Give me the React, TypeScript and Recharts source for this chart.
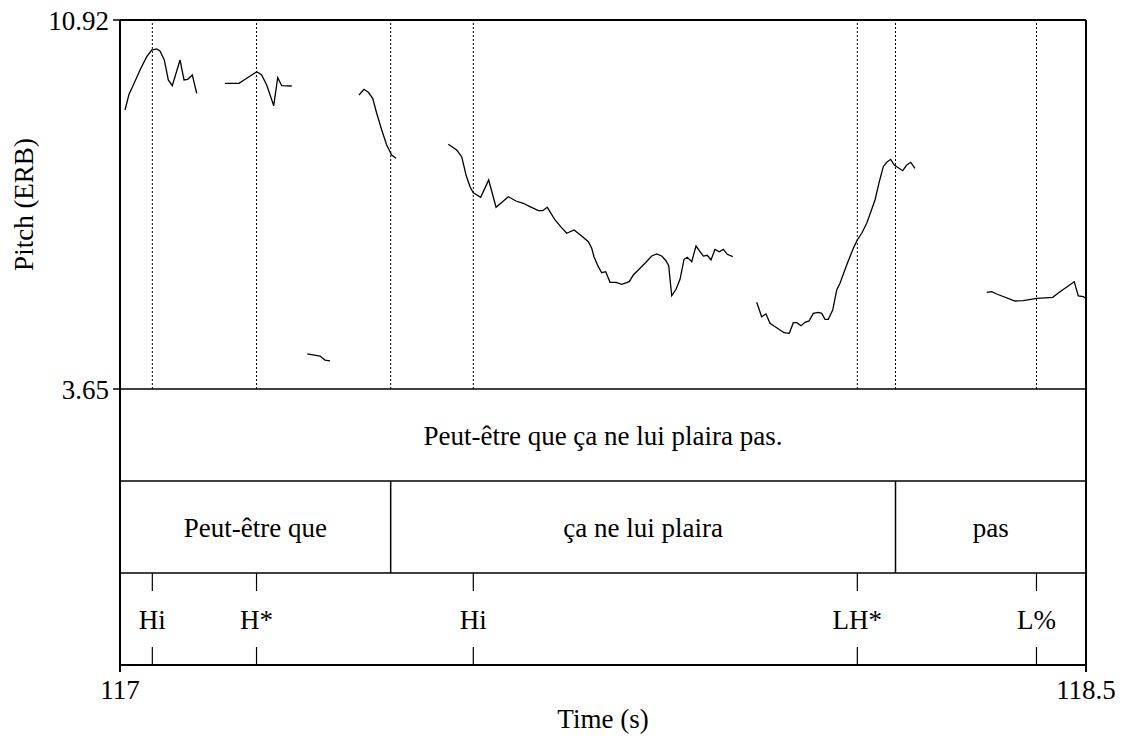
import React from 'react';
import {
  ComposedChart,
  Line,
  XAxis,
  YAxis,
  ReferenceLine,
  ReferenceArea,
  ReferenceDot,
} from 'recharts';

// Pitch track, one array per voiced stretch: [time (s), pitch (ERB)]
const seg1 = [
  [117.0078, 9.147], [117.014, 9.456], [117.0207, 9.639], [117.0311, 9.935],
  [117.0415, 10.197], [117.0492, 10.329], [117.057, 10.349], [117.0621, 10.309],
  [117.0688, 10.132], [117.075, 9.738], [117.0812, 9.626], [117.0932, 10.132],
  [117.0994, 9.738], [117.1051, 9.752], [117.1123, 9.836], [117.1191, 9.476],
];
const seg2 = [
  [117.163, 9.673], [117.1848, 9.673], [117.1967, 9.771], [117.2123, 9.901],
  [117.22, 9.836], [117.2278, 9.639], [117.2387, 9.232], [117.2449, 9.783],
  [117.2511, 9.626], [117.2666, 9.62],
];
const seg3 = [
  [117.2908, 4.34], [117.3106, 4.3], [117.3183, 4.221], [117.3261, 4.202],
];
const seg4 = [
  [117.3711, 9.442], [117.3789, 9.555], [117.3856, 9.496], [117.3924, 9.377],
  [117.3986, 9.082], [117.4064, 8.753], [117.4141, 8.457], [117.4219, 8.26],
  [117.4286, 8.195],
];
const seg5 = [
  [117.5098, 8.471], [117.5228, 8.359], [117.5306, 8.227], [117.5373, 7.866],
  [117.5435, 7.635], [117.5486, 7.517], [117.5601, 7.427], [117.5725, 7.768],
  [117.5839, 7.23], [117.603, 7.439], [117.6149, 7.354], [117.6262, 7.309],
  [117.6366, 7.242], [117.6495, 7.163], [117.6564, 7.163], [117.6635, 7.23],
  [117.6755, 6.98], [117.6843, 6.848], [117.6936, 6.718], [117.705, 6.783],
  [117.7169, 6.664], [117.7272, 6.552], [117.7325, 6.422], [117.736, 6.256],
  [117.7427, 6.06], [117.748, 5.941], [117.7542, 5.961], [117.7609, 5.752],
  [117.7702, 5.752], [117.779, 5.713], [117.7908, 5.764], [117.7971, 5.896],
  [117.8075, 6.028], [117.8152, 6.127], [117.8256, 6.27], [117.8334, 6.31],
  [117.8411, 6.27], [117.8478, 6.178], [117.852, 6.079], [117.8567, 5.488],
  [117.8634, 5.614], [117.8696, 5.811], [117.8758, 6.205], [117.8809, 6.245],
  [117.8878, 6.158], [117.8944, 6.467], [117.9058, 6.27], [117.912, 6.284],
  [117.9177, 6.192], [117.9239, 6.402], [117.9306, 6.355], [117.9368, 6.402],
  [117.943, 6.304], [117.9514, 6.257],
];
const seg6 = [
  [117.9887, 5.358], [117.9963, 5.074], [118.0031, 5.128], [118.0093, 4.944],
  [118.0197, 4.858], [118.0311, 4.759], [118.0393, 4.747], [118.0455, 4.956],
  [118.0508, 4.956], [118.0575, 4.897], [118.0637, 4.964], [118.0699, 4.99],
  [118.0766, 5.141], [118.0843, 5.161], [118.0896, 5.141], [118.0947, 5.023],
  [118.0998, 5.023], [118.1067, 5.206], [118.1129, 5.6], [118.118, 5.732],
  [118.1284, 6.093], [118.1387, 6.422], [118.1449, 6.586], [118.1517, 6.718],
  [118.1595, 6.915], [118.1724, 7.374], [118.179, 7.734], [118.1852, 8.03],
  [118.1905, 8.116], [118.1967, 8.175], [118.2023, 8.063], [118.2154, 7.951],
  [118.2216, 8.063], [118.2278, 8.116], [118.2345, 7.998],
];
const seg7 = [
  [118.3458, 5.555], [118.3536, 5.567], [118.3613, 5.522], [118.3898, 5.384],
  [118.4026, 5.39], [118.4234, 5.437], [118.4483, 5.457], [118.4596, 5.567],
  [118.4818, 5.764], [118.488, 5.482], [118.4958, 5.468], [118.4995, 5.437],
];
const PITCH_SEGMENTS = [seg1, seg2, seg3, seg4, seg5, seg6, seg7];

// TextGrid tiers
const SENTENCE = 'Peut-être que ça ne lui plaira pas.';
const WORDS = ['Peut-être que', 'ça ne lui plaira', 'pas'];
const WORD_EDGES = [117, 117.4203, 118.2042, 118.5];
const TONES = ['Hi', 'H*', 'Hi', 'LH*', 'L%'];
const TONE_TIMES = [117.0502, 117.212, 117.5486, 118.1449, 118.4231];

const TIME_TICKS = [117, 118.5];
const PITCH_TICKS = [3.65, 10.92];

const T_MIN = TIME_TICKS[0];
const T_MAX = TIME_TICKS[1];
const P_MIN = PITCH_TICKS[0];
const P_MAX = PITCH_TICKS[1];

// pitch panel is 369px tall, each tier 92px
const TIER_COUNT = 3;
const PANEL_TIERS = 369 / 92;
const TIER_TOP = TIER_COUNT + PANEL_TIERS;
const PITCH_FLOOR = P_MIN - ((P_MAX - P_MIN) * TIER_COUNT) / PANEL_TIERS;
const MARK_LEN = 18 / 92;

const FONT = "'Liberation Serif', 'Times New Roman', Times, serif";
const FS = 27;

const toRows = (seg: number[][]) => seg.map(([t, erb]) => ({ t, erb }));

const YLabel = ({ viewBox }: any) => {
  const top = viewBox?.y ?? 20;
  const h = viewBox?.height ?? 645;
  const cy = top + (h * PANEL_TIERS) / TIER_TOP / 2;
  const x = 33;
  return (
    <text
      x={x}
      y={cy}
      textAnchor="middle"
      fontSize={FS}
      fontFamily={FONT}
      fill="#000"
      transform={`rotate(-90, ${x}, ${cy})`}
    >
      Pitch (ERB)
    </text>
  );
};

const XLabel = ({ viewBox }: any) => {
  const x = (viewBox?.x ?? 120) + (viewBox?.width ?? 966) / 2;
  const y = (viewBox?.y ?? 665) + 63;
  return (
    <text x={x} y={y} textAnchor="middle" fontSize={FS} fontFamily={FONT} fill="#000">
      Time (s)
    </text>
  );
};

const labelStyle = { fill: '#000', fontSize: FS, fontFamily: FONT };
const tickStyle = { fill: '#000', fontSize: FS, fontFamily: FONT };

export default function App() {
  const dotted = [...TONE_TIMES, ...WORD_EDGES.slice(1, -1)];
  return (
    <div style={{ margin: -8, fontFamily: FONT }}>
      <ComposedChart width={1127} height={742} margin={{ top: 20, right: 41, bottom: 0, left: 0 }}>
        <XAxis
          dataKey="t"
          type="number"
          domain={[T_MIN, T_MAX]}
          ticks={TIME_TICKS}
          interval={0}
          allowDataOverflow
          height={77}
          tickSize={7}
          tickMargin={8}
          tick={tickStyle}
          axisLine={{ stroke: '#000', strokeWidth: 2 }}
          tickLine={{ stroke: '#000', strokeWidth: 2 }}
          label={<XLabel />}
        />
        <YAxis
          yAxisId="pitch"
          type="number"
          domain={[PITCH_FLOOR, P_MAX]}
          ticks={PITCH_TICKS}
          interval={0}
          allowDataOverflow
          width={120}
          tickSize={7}
          tickMargin={4}
          tick={tickStyle}
          axisLine={{ stroke: '#000', strokeWidth: 2 }}
          tickLine={{ stroke: '#000', strokeWidth: 1.5 }}
          label={<YLabel />}
        />
        <YAxis yAxisId="tier" type="number" domain={[0, TIER_TOP]} hide allowDataOverflow />

        {/* frame: top and right edges */}
        <ReferenceLine yAxisId="pitch" y={P_MAX} stroke="#000" strokeWidth={2} />
        <ReferenceLine yAxisId="pitch" x={T_MAX} stroke="#000" strokeWidth={2} />

        {/* dotted guides through the pitch panel */}
        {dotted.map((t, i) => (
          <ReferenceLine
            key={`g${i}`}
            yAxisId="pitch"
            segment={[{ x: t, y: P_MIN }, { x: t, y: P_MAX }]}
            stroke="#000"
            strokeWidth={1}
            strokeDasharray="2 2"
          />
        ))}

        {/* tier separators */}
        {[3, 2, 1].map((y) => (
          <ReferenceLine key={`s${y}`} yAxisId="tier" y={y} stroke="#000" strokeWidth={1.5} />
        ))}

        {/* sentence tier */}
        <ReferenceArea
          yAxisId="tier"
          x1={T_MIN}
          x2={T_MAX}
          y1={2}
          y2={3}
          fill="none"
          stroke="none"
          label={{ value: SENTENCE, position: 'center', ...labelStyle }}
        />

        {/* word tier */}
        {WORD_EDGES.slice(1, -1).map((t, i) => (
          <ReferenceLine
            key={`w${i}`}
            yAxisId="tier"
            segment={[{ x: t, y: 1 }, { x: t, y: 2 }]}
            stroke="#000"
            strokeWidth={1.5}
          />
        ))}
        {WORDS.map((w, i) => (
          <ReferenceArea
            key={`wl${i}`}
            yAxisId="tier"
            x1={WORD_EDGES[i]}
            x2={WORD_EDGES[i + 1]}
            y1={1}
            y2={2}
            fill="none"
            stroke="none"
            label={{ value: w, position: 'center', ...labelStyle }}
          />
        ))}

        {/* tone tier */}
        {TONE_TIMES.map((t, i) => (
          <React.Fragment key={`tn${i}`}>
            <ReferenceLine
              yAxisId="tier"
              segment={[{ x: t, y: 1 }, { x: t, y: 1 - MARK_LEN }]}
              stroke="#000"
              strokeWidth={1.2}
            />
            <ReferenceLine
              yAxisId="tier"
              segment={[{ x: t, y: 0 }, { x: t, y: MARK_LEN }]}
              stroke="#000"
              strokeWidth={1.2}
            />
            <ReferenceDot
              yAxisId="tier"
              x={t}
              y={0.5}
              r={0}
              fill="none"
              stroke="none"
              label={{ value: TONES[i], position: 'center', ...labelStyle }}
            />
          </React.Fragment>
        ))}

        {PITCH_SEGMENTS.map((seg, i) => (
          <Line
            key={`p${i}`}
            yAxisId="pitch"
            data={toRows(seg)}
            dataKey="erb"
            type="linear"
            stroke="#000"
            strokeWidth={1.3}
            dot={false}
            activeDot={false}
            isAnimationActive={false}
          />
        ))}
      </ComposedChart>
    </div>
  );
}
